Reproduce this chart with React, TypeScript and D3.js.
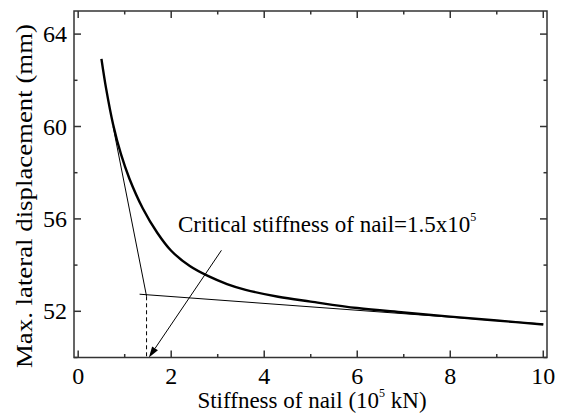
import React from "react";
import * as d3 from "d3";

const stiffness = [0.5, 0.6, 0.75, 0.92, 1.1, 1.39, 1.7, 2.0, 2.4, 2.8, 3.2, 3.6, 4.3, 5.0, 6.0, 7.0, 8.0, 9.0, 10.0];
const displacement = [62.93, 61.65, 60.1, 58.8, 57.75, 56.45, 55.4, 54.62, 53.96, 53.52, 53.18, 52.93, 52.63, 52.42, 52.14, 51.95, 51.77, 51.6, 51.43];

const steepTangentX = [0.75, 1.47];
const steepTangentY = [60.0, 52.65];
const flatTangentX = [1.32, 10.0];
const flatTangentY = [52.74, 51.45];
const criticalX = 1.47;
const criticalY = 52.65;
const arrowFromX = 3.08;
const arrowFromY = 54.64;
const arrowToX = 1.52;
const arrowToY = 50.0;

const xTicks = [0, 2, 4, 6, 8, 10];
const xMinor = [1, 3, 5, 7, 9];
const yTicks = [52, 56, 60, 64];
const yMinor = [50, 54, 58, 62];

const W = 563, H = 414;
const L = 74, R = 547, T = 11, B = 357.5;
const FONT = "'Liberation Serif', 'Times New Roman', Times, serif";
const AX = "#333";

export default function App() {
  const x = d3.scaleLinear().domain([-0.09, 10.08]).range([L, R]);
  const y = d3.scaleLinear().domain([50, 65]).range([B, T]);
  const pts = stiffness.map((s, i) => [s, displacement[i]] as [number, number]);
  const line = d3.line<[number, number]>().x(d => x(d[0])).y(d => y(d[1])).curve(d3.curveCatmullRom.alpha(0.5));

  const ax1 = x(arrowFromX), ay1 = y(arrowFromY), ax2 = x(arrowToX), ay2 = y(arrowToY);
  const ang = Math.atan2(ay2 - ay1, ax2 - ax1);
  const hl = 11, hw = 3.5;
  const bx = ax2 - hl * Math.cos(ang), by = ay2 - hl * Math.sin(ang);
  const head = `M${ax2},${ay2} L${bx + hw * Math.sin(ang)},${by - hw * Math.cos(ang)} L${bx - hw * Math.sin(ang)},${by + hw * Math.cos(ang)} Z`;

  const txt = { fontFamily: FONT, fill: "#000" } as React.CSSProperties;

  return (
    <svg width={W} height={H} style={{ position: "absolute", left: 0, top: 0, background: "#fff" }}>
      <rect x={0} y={0} width={W} height={H} fill="#fff" />
      <path d={line(pts) || ""} fill="none" stroke="#000" strokeWidth={2.4} />
      <line x1={x(steepTangentX[0])} y1={y(steepTangentY[0])} x2={x(steepTangentX[1])} y2={y(steepTangentY[1])} stroke="#000" strokeWidth={1} />
      <line x1={x(flatTangentX[0])} y1={y(flatTangentY[0])} x2={x(flatTangentX[1])} y2={y(flatTangentY[1])} stroke="#000" strokeWidth={1} />
      <line x1={x(criticalX)} y1={y(criticalY)} x2={x(criticalX)} y2={B} stroke="#000" strokeWidth={1} strokeDasharray="4,3" />
      <line x1={ax1} y1={ay1} x2={bx} y2={by} stroke="#000" strokeWidth={1} />
      <path d={head} fill="#000" />
      <rect x={L} y={T} width={R - L} height={B - T} fill="none" stroke={AX} strokeWidth={1.5} />
      {xTicks.map(t => (
        <g key={"xt" + t}>
          <line x1={x(t)} x2={x(t)} y1={B} y2={B - 7} stroke={AX} strokeWidth={1.5} />
          <line x1={x(t)} x2={x(t)} y1={T} y2={T + 7} stroke={AX} strokeWidth={1.5} />
          <text x={x(t)} y={384} textAnchor="middle" fontSize={24} fontFamily={FONT} style={txt}>{String(t)}</text>
        </g>
      ))}
      {xMinor.map(t => (
        <g key={"xm" + t}>
          <line x1={x(t)} x2={x(t)} y1={B} y2={B - 3.5} stroke={AX} strokeWidth={1.5} />
          <line x1={x(t)} x2={x(t)} y1={T} y2={T + 3.5} stroke={AX} strokeWidth={1.5} />
        </g>
      ))}
      {yTicks.map(t => (
        <g key={"yt" + t}>
          <line x1={L} x2={L + 7} y1={y(t)} y2={y(t)} stroke={AX} strokeWidth={1.5} />
          <line x1={R} x2={R - 7} y1={y(t)} y2={y(t)} stroke={AX} strokeWidth={1.5} />
          <text x={67} y={y(t) + 8} textAnchor="end" fontSize={24} fontFamily={FONT} style={txt}>{String(t)}</text>
        </g>
      ))}
      {yMinor.map(t => (
        <g key={"ym" + t}>
          <line x1={L} x2={L + 3.5} y1={y(t)} y2={y(t)} stroke={AX} strokeWidth={1.5} />
          <line x1={R} x2={R - 3.5} y1={y(t)} y2={y(t)} stroke={AX} strokeWidth={1.5} />
        </g>
      ))}
      <text x={178} y={232} fontSize={23} style={txt}>
        Critical stiffness of nail=1.5x10<tspan fontSize={12} dy={-11}>5</tspan>
      </text>
      <text x={312} y={408} textAnchor="middle" fontSize={23} style={txt}>
        Stiffness of nail (10<tspan fontSize={12} dy={-11}>5</tspan><tspan dy={11}> kN)</tspan>
      </text>
      <text transform="translate(32,196) rotate(-90)" textAnchor="middle" fontSize={24} style={txt}
        textLength={344} lengthAdjust="spacingAndGlyphs">
        Max. lateral displacement (mm)
      </text>
    </svg>
  );
}
